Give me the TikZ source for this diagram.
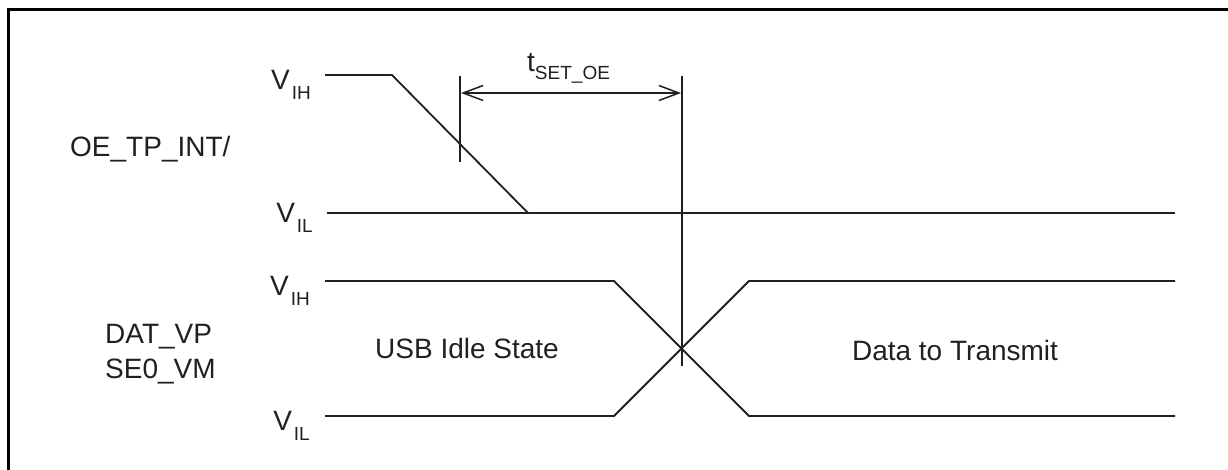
\documentclass[tikz,border=0pt]{standalone}
\usepackage{fontspec}
\setmainfont{Liberation Sans}
\usepackage{tikz}
\usetikzlibrary{arrows.meta,positioning}
\definecolor{InkGray}{HTML}{231F20}
\newcommand{\sigfont}{\fontsize{28}{35}\selectfont}
\newcommand{\subfont}{\fontsize{19}{19}\selectfont}
\newcommand{\lvl}[1]{V\kern2pt\raisebox{-10pt}{\subfont #1}}

\begin{document}
\begin{tikzpicture}[
x=1pt,y=-1pt,
lbl/.style={font=\sigfont,text=InkGray,inner sep=0pt},
lvl/.style={lbl,anchor=base east},
wave/.style={line width=1.8pt,draw=InkGray,line join=miter},
tick/.style={line width=1.8pt,draw=InkGray},
span/.style={{Straight Barb[length=20pt,width=15pt,line width=1.5pt]}-{Straight Barb[length=20pt,width=15pt,line width=1.5pt]},line width=1.8pt,draw=InkGray}
]
\useasboundingbox (0,0) rectangle (1228,470);
% frame
\draw[line width=3pt,draw=black] (8,470) -- (8,10) -- (1228,10);

% OE_TP_INT/ signal
\node[lbl,anchor=base west] (oe) at (70,157) {OE\_TP\_INT/};
\node[lvl] (oeH) at (311,90) {\lvl{IH}};
\node[lvl] (oeL) at (313,223) {\lvl{IL}};
\coordinate (oeA) at (325,75);
\coordinate (oeB) at (392,75);
\coordinate (oeC) at (528,213);
\coordinate (oeS) at (327,213);
\coordinate (oeE) at (1175,213);
\draw[wave] (oeA) -- (oeB) -- (oeC);
\draw[wave] (oeS) -- (oeE);

% DAT_VP / SE0_VM signal
\node[lbl,anchor=base west] (dat) at (105,343) {DAT\_VP};
\node[lbl,anchor=base west] (se) at (105,378) {SE0\_VM};
\node[lvl] (datH) at (310,295) {\lvl{IH}};
\node[lvl] (datL) at (310,430) {\lvl{IL}};
\coordinate (hiA) at (325,281);
\coordinate (hiB) at (614,281);
\coordinate (hiC) at (749,281);
\coordinate (hiD) at (1175,281);
\coordinate (loA) at (325,416);
\coordinate (loB) at (614,416);
\coordinate (loC) at (749,416);
\coordinate (loD) at (1175,416);
\draw[wave] (hiA) -- (hiB) -- (loC) -- (loD);
\draw[wave] (loA) -- (loB) -- (hiC) -- (hiD);
\node[lbl,anchor=base] (idle) at (467,358) {USB Idle State};
\node[lbl,anchor=base] (data) at (955,360) {Data to Transmit};

% t_SET_OE
\coordinate (m1t) at (460,76);
\coordinate (m1b) at (460,162);
\coordinate (m2t) at (682,76);
\coordinate (m2b) at (682,366);
\draw[tick] (m1t) -- (m1b);
\draw[tick] (m2t) -- (m2b);
\coordinate (s1) at (461,93);
\coordinate (s2) at (681,93);
\draw[span] (s1) -- (s2);
\node[lbl,anchor=base west] (tset) at (527,72) {t\raisebox{-8pt}{\subfont SET\_OE}};
\end{tikzpicture}
\end{document}
